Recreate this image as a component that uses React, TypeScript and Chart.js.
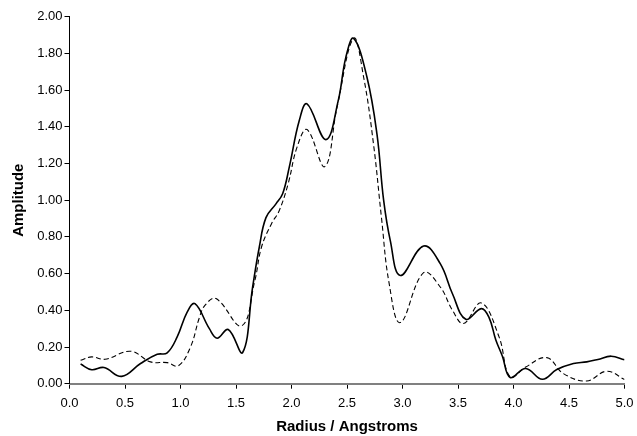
import { useEffect, useRef } from 'react';
import { Chart, registerables } from 'chart.js';

Chart.register(...registerables);

// Radial distribution: solid curve
const radiusSolid = [
  0.1, 0.2, 0.31, 0.47, 0.64, 0.79, 0.88, 0.97, 1.06, 1.13, 1.26, 1.33, 1.43, 1.56,
  1.65, 1.71, 1.77, 1.86, 1.92, 1.98, 2.07, 2.14, 2.31, 2.42, 2.49, 2.56, 2.68, 2.77,
  2.83, 2.89, 2.98, 3.19, 3.34, 3.45, 3.57, 3.71, 3.78, 3.84, 3.9, 3.97, 4.11, 4.26,
  4.39, 4.54, 4.66, 4.76, 4.88, 5.0,
];
const amplitudeSolid = [
  0.107, 0.076, 0.088, 0.04, 0.11, 0.16, 0.168, 0.255, 0.39, 0.436, 0.3, 0.248, 0.295, 0.17,
  0.527, 0.745, 0.905, 0.98, 1.035, 1.18, 1.434, 1.525, 1.33, 1.54, 1.78, 1.882, 1.67, 1.36,
  1.0, 0.78, 0.59, 0.75, 0.654, 0.49, 0.351, 0.409, 0.36, 0.24, 0.15, 0.034, 0.083, 0.024,
  0.077, 0.11, 0.119, 0.132, 0.15, 0.13,
];

// Radial distribution: dashed curve
const radiusDashed = [
  0.1, 0.2, 0.32, 0.55, 0.73, 0.88, 0.98, 1.09, 1.17, 1.22, 1.32, 1.55, 1.67, 1.73,
  1.82, 1.89, 1.97, 2.05, 2.14, 2.3, 2.41, 2.56, 2.65, 2.74, 2.81, 2.88, 2.98, 3.19,
  3.34, 3.45, 3.55, 3.71, 3.87, 3.97, 4.11, 4.3, 4.45, 4.66, 4.84, 5.0,
];
const amplitudeDashed = [
  0.128, 0.146, 0.133, 0.177, 0.119, 0.115, 0.097, 0.2, 0.36, 0.427, 0.464, 0.315, 0.563, 0.745,
  0.872, 0.944, 1.09, 1.289, 1.385, 1.183, 1.506, 1.882, 1.67, 1.3, 0.908, 0.545, 0.333, 0.605,
  0.527, 0.4, 0.328, 0.44, 0.255, 0.037, 0.091, 0.142, 0.055, 0.015, 0.068, 0.023,
];

const xAxisTitle = 'Radius / Angstroms';
const yAxisTitle = 'Amplitude';

const toPoints = (xs: number[], ys: number[]) => xs.map((x, i) => ({ x, y: ys[i] }));

export default function App() {
  const canvasRef = useRef<HTMLCanvasElement | null>(null);

  useEffect(() => {
    const canvas = canvasRef.current;
    if (!canvas) return;
    const tickFont = { family: "'Liberation Sans', Arial, sans-serif", size: 13 };
    const titleFont = { family: "'Liberation Sans', Arial, sans-serif", size: 15, weight: 'bold' as const };

    const chart = new Chart(canvas, {
      type: 'line',
      data: {
        datasets: [
          {
            label: 'solid',
            data: toPoints(radiusSolid, amplitudeSolid),
            borderColor: '#000',
            borderWidth: 1.6,
            pointRadius: 0,
            tension: 0.4,
            fill: false,
          },
          {
            label: 'dashed',
            data: toPoints(radiusDashed, amplitudeDashed),
            borderColor: '#000',
            borderWidth: 1.1,
            borderDash: [5, 3],
            pointRadius: 0,
            tension: 0.4,
            fill: false,
          },
        ],
      },
      options: {
        animation: false,
        responsive: false,
        layout: { padding: { top: 16.7, right: 12.5, left: 0, bottom: 0 } },
        plugins: { legend: { display: false }, tooltip: { enabled: false } },
        scales: {
          x: {
            type: 'linear',
            min: 0,
            max: 5,
            afterFit: (scale: any) => {
              scale.height = 52.3;
              scale.paddingLeft = 0;
              scale.paddingRight = 0;
            },
            ticks: {
              stepSize: 0.5,
              color: '#000',
              font: tickFont,
              padding: 7,
              maxRotation: 0,
              callback: (v: any) => Number(v).toFixed(1),
            },
            grid: { drawOnChartArea: false, drawTicks: true, tickLength: 5, color: '#000' },
            border: { color: '#808080', width: 2 },
            title: { display: true, text: xAxisTitle, color: '#000', font: titleFont, padding: { top: 0, bottom: 0 } },
          },
          y: {
            type: 'linear',
            min: 0,
            max: 2,
            afterFit: (scale: any) => {
              scale.width = 69.5;
              scale.paddingTop = 0;
              scale.paddingBottom = 0;
            },
            ticks: {
              stepSize: 0.2,
              color: '#000',
              font: tickFont,
              padding: 2,
              callback: (v: any) => Number(v).toFixed(2),
            },
            grid: { drawOnChartArea: false, drawTicks: true, tickLength: 5, color: '#000' },
            border: { color: '#000', width: 1 },
            title: { display: true, text: yAxisTitle, color: '#000', font: titleFont, padding: { top: 10, bottom: 0 } },
          },
        },
      },
    });
    return () => chart.destroy();
  }, []);

  return (
    <div style={{ position: 'fixed', left: 0, top: 0, width: 637, height: 436, background: '#fff' }}>
      <canvas ref={canvasRef} width={637} height={436} />
    </div>
  );
}
